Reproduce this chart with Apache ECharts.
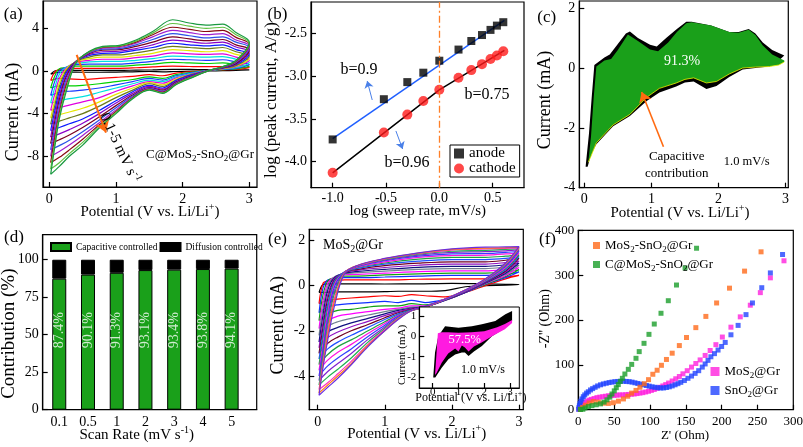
<!DOCTYPE html>
<html><head><meta charset="utf-8">
<script src="https://cdn.jsdelivr.net/npm/echarts@6/dist/echarts.min.js"></script>
</head><body style="margin:0;background:#fff">
<div id="c" style="width:803px;height:447px"></div>
<script>
const FF = "'Liberation Serif','Times New Roman',serif";

// ===== (a) C@MoS2-SnO2@Gr CV curves, 0.1-5 mV/s =====
const A_UP_V = [0.02, 0.08, 0.15, 0.25, 0.4, 0.6, 0.8, 1.05, 1.3, 1.55, 1.85, 2.1, 2.35, 2.6, 2.8, 3.0];
const A_DN_V = [3.0, 2.8, 2.6, 2.4, 2.15, 1.9, 1.7, 1.5, 1.25, 1.0, 0.75, 0.5, 0.3, 0.15, 0.02];
const A_UP = [
 [-0.3, 0.0, 0.05, 0.05, 0.05, 0.05, 0.05, 0.05, 0.08, 0.1, 0.15, 0.15, 0.12, 0.12, 0.1, 0.1],
 [-0.9, -0.1, 0.15, 0.2, 0.25, 0.25, 0.25, 0.25, 0.3, 0.38, 0.45, 0.42, 0.4, 0.42, 0.35, 0.3],
 [-1.6, -0.5, 0.2, 0.3, 0.45, 0.45, 0.45, 0.45, 0.55, 0.65, 0.8, 0.75, 0.7, 0.75, 0.6, 0.45],
 [-2.3, -1.0, 0.0, 0.35, 0.6, 0.65, 0.65, 0.65, 0.75, 0.9, 1.1, 1.05, 1.0, 1.05, 0.85, 0.6],
 [-3.0, -1.6, -0.3, 0.35, 0.7, 0.85, 0.9, 0.9, 1.0, 1.15, 1.4, 1.35, 1.3, 1.35, 1.1, 0.8],
 [-3.7, -2.2, -0.7, 0.25, 0.8, 1.0, 1.1, 1.1, 1.25, 1.4, 1.7, 1.6, 1.55, 1.6, 1.3, 1.0],
 [-4.4, -2.8, -1.1, 0.15, 0.85, 1.15, 1.3, 1.3, 1.45, 1.65, 2.0, 1.9, 1.8, 1.9, 1.55, 1.2],
 [-5.0, -3.3, -1.5, 0.0, 0.9, 1.3, 1.5, 1.5, 1.7, 1.95, 2.3, 2.2, 2.1, 2.2, 1.8, 1.4],
 [-5.6, -3.8, -1.9, -0.2, 0.9, 1.45, 1.65, 1.7, 1.95, 2.2, 2.6, 2.45, 2.35, 2.45, 2.0, 1.6],
 [-6.2, -4.3, -2.3, -0.4, 0.9, 1.55, 1.8, 1.85, 2.1, 2.45, 2.9, 2.75, 2.6, 2.7, 2.25, 1.8],
 [-6.8, -4.8, -2.7, -0.6, 0.9, 1.65, 1.95, 2.0, 2.3, 2.7, 3.2, 3.0, 2.85, 2.95, 2.45, 2.0],
 [-7.4, -5.3, -3.1, -0.85, 0.85, 1.7, 2.05, 2.1, 2.45, 2.95, 3.5, 3.3, 3.1, 3.2, 2.7, 2.2],
 [-8.0, -5.8, -3.5, -1.1, 0.85, 1.75, 2.15, 2.2, 2.6, 3.2, 3.8, 3.6, 3.4, 3.5, 2.9, 2.35],
 [-8.6, -6.3, -3.9, -1.4, 0.8, 1.8, 2.2, 2.3, 2.7, 3.4, 4.1, 3.9, 3.7, 3.8, 3.15, 2.5],
 [-9.2, -6.8, -4.2, -1.7, 0.8, 1.8, 2.25, 2.35, 2.8, 3.55, 4.45, 4.2, 4.0, 4.1, 3.4, 2.6],
 [-9.7, -7.2, -4.5, -2.0, 0.75, 1.85, 2.3, 2.4, 2.9, 3.7, 4.8, 4.5, 4.3, 4.4, 3.6, 2.7]
];
const A_DN = [
 [0.1, 0.05, 0.02, 0.0, -0.02, -0.05, -0.08, -0.05, -0.08, -0.1, -0.12, -0.12, -0.1, -0.12, -0.3],
 [0.3, 0.15, 0.1, 0.05, -0.05, -0.2, -0.45, -0.35, -0.5, -0.6, -0.7, -0.8, -0.75, -0.7, -0.9],
 [0.45, 0.2, 0.12, 0.05, -0.1, -0.35, -0.7, -0.55, -0.8, -1.0, -1.2, -1.35, -1.4, -1.4, -1.6],
 [0.6, 0.25, 0.15, 0.05, -0.15, -0.45, -0.85, -0.7, -1.0, -1.3, -1.6, -1.8, -1.9, -2.0, -2.3],
 [0.8, 0.3, 0.18, 0.05, -0.2, -0.55, -1.0, -0.85, -1.2, -1.6, -2.0, -2.4, -2.6, -2.8, -3.0],
 [1.0, 0.4, 0.2, 0.05, -0.25, -0.65, -1.15, -1.0, -1.4, -1.9, -2.5, -2.9, -3.2, -3.45, -3.7],
 [1.2, 0.45, 0.22, 0.05, -0.3, -0.75, -1.3, -1.1, -1.6, -2.2, -2.9, -3.5, -3.85, -4.1, -4.4],
 [1.4, 0.5, 0.25, 0.05, -0.3, -0.85, -1.45, -1.2, -1.8, -2.5, -3.3, -4.0, -4.4, -4.7, -5.0],
 [1.6, 0.6, 0.28, 0.05, -0.35, -0.9, -1.6, -1.35, -1.95, -2.8, -3.7, -4.5, -4.95, -5.3, -5.6],
 [1.8, 0.65, 0.3, 0.05, -0.4, -1.0, -1.7, -1.45, -2.1, -3.0, -4.0, -4.9, -5.5, -5.9, -6.2],
 [2.0, 0.7, 0.32, 0.05, -0.45, -1.05, -1.8, -1.55, -2.25, -3.25, -4.3, -5.3, -6.0, -6.45, -6.8],
 [2.2, 0.8, 0.34, 0.05, -0.5, -1.1, -1.9, -1.6, -2.35, -3.45, -4.6, -5.7, -6.5, -7.0, -7.4],
 [2.35, 0.85, 0.36, 0.05, -0.5, -1.15, -1.95, -1.65, -2.45, -3.65, -4.85, -6.05, -6.95, -7.55, -8.0],
 [2.5, 0.9, 0.38, 0.05, -0.55, -1.2, -2.0, -1.7, -2.5, -3.8, -5.05, -6.4, -7.4, -8.1, -8.6],
 [2.6, 0.95, 0.39, 0.05, -0.55, -1.25, -2.05, -1.75, -2.55, -3.9, -5.2, -6.7, -7.75, -8.6, -9.2],
 [2.7, 1.0, 0.4, 0.05, -0.6, -1.3, -2.1, -1.8, -2.6, -4.0, -5.35, -6.95, -8.0, -8.95, -9.7]
];
const A_COLORS = ['#000000','#ff0000','#00d000','#1a3cff','#00e0e0','#e000e0','#e6e600','#6b7a1a',
                  '#0a1aff','#8a00c8','#7a0020','#2a50e8','#a020d0','#8a0a10','#60c040','#1a9a40'];
const A_ARROW = [[0.41, 1.5], [0.85, -5.78]];

// ===== (b) log(peak current) vs log(sweep rate) =====
const B_LOGRATE = [-1.0, -0.52, -0.3, -0.15, 0.0, 0.18, 0.3, 0.4, 0.48, 0.54, 0.6];
const B_ANODE   = [-3.74, -3.27, -3.07, -2.96, -2.82, -2.69, -2.59, -2.52, -2.46, -2.41, -2.37];
const B_CATHODE = [-4.13, -3.66, -3.45, -3.29, -3.16, -3.02, -2.93, -2.86, -2.80, -2.76, -2.71];
const B_FIT_ANODE = [[-1.0, -3.73], [0.61, -2.35]];
const B_FIT_CATHODE = [[-1.0, -4.13], [0.0, -3.16], [0.61, -2.70]];
const B_ARROWS = [[[-0.629, -3.279], [-0.676, -3.057]], [[-0.407, -3.641], [-0.344, -3.852]]];

// ===== (c) capacitive contribution at 1.0 mV/s =====
const C_TOTAL = [[0.02,-3.3],[0.07,-2.2],[0.11,-1.0],[0.15,0.1],[0.3,0.35],[0.38,0.45],[0.5,0.8],[0.62,1.15],[0.68,1.22],
  [0.8,1.0],[0.98,0.78],[1.08,0.72],[1.22,1.0],[1.38,1.3],[1.52,1.55],[1.6,1.55],[1.89,1.42],[2.16,1.2],[2.3,1.2],
  [2.45,1.3],[2.55,1.15],[2.66,0.85],[2.8,0.6],[2.98,0.42],[2.9,0.25],[2.76,0.05],[2.55,0.0],[2.36,-0.05],[2.16,-0.3],
  [1.97,-0.6],[1.82,-0.7],[1.63,-0.45],[1.5,-0.48],[1.37,-0.62],[1.12,-0.82],[0.93,-1.1],[0.68,-1.6],[0.43,-1.95],
  [0.18,-2.55],[0.1,-2.9],[0.05,-3.3]];
const C_CAP_UPPER = [[0.06,-3.15],[0.1,-2.3],[0.14,-1.0],[0.18,0.05],[0.3,0.25],[0.4,0.3],[0.5,0.6],[0.65,1.12],[0.8,0.9],
  [0.98,0.62],[1.1,0.56],[1.25,0.85],[1.38,1.2],[1.52,1.5],[1.6,1.53],[1.89,1.42],[2.16,1.2],[2.3,1.18],[2.45,1.28],
  [2.55,1.1],[2.66,0.75],[2.8,0.45],[2.98,0.25]];
const C_CAP_LOWER = [[2.98,0.2],[2.9,0.1],[2.76,0.05],[2.55,0.03],[2.36,0.0],[2.16,-0.2],[1.97,-0.45],[1.82,-0.5],
  [1.63,-0.33],[1.5,-0.38],[1.37,-0.5],[1.12,-0.68],[0.93,-0.98],[0.68,-1.55],[0.43,-1.9],[0.18,-2.5],[0.1,-2.95],[0.06,-3.15]];
const C_ARROW = [[1.18, -2.63], [0.855, -0.8]];

// ===== (d) contribution ratios =====
const D_RATES = ['0.1', '0.5', '1', '2', '3', '4', '5'];
const D_CAP  = [87.4, 90.1, 91.3, 93.1, 93.4, 93.8, 94.1];
const D_DIFF = [12.6, 9.9, 8.7, 6.9, 6.6, 6.2, 5.9];

// ===== (e) MoS2@Gr CV curves =====
const E_UP_V = [0.02, 0.08, 0.15, 0.25, 0.4, 0.6, 1.0, 1.5, 2.0, 2.5, 2.8, 3.0];
const E_DN_V = [3.0, 2.8, 2.5, 2.2, 1.9, 1.6, 1.4, 1.2, 1.0, 0.75, 0.5, 0.3, 0.15, 0.02];
const E_UP = [
 [-0.3, 0.05, 0.08, 0.08, 0.08, 0.08, 0.07, 0.08, 0.1, 0.08, 0.06, 0.05],
 [-0.8, 0.1, 0.2, 0.22, 0.25, 0.25, 0.25, 0.28, 0.3, 0.3, 0.38, 0.45],
 [-1.2, -0.1, 0.25, 0.3, 0.35, 0.35, 0.38, 0.42, 0.45, 0.45, 0.5, 0.6],
 [-1.55, -0.4, 0.2, 0.35, 0.42, 0.42, 0.47, 0.52, 0.55, 0.55, 0.6, 0.7],
 [-1.9, -0.7, 0.1, 0.38, 0.48, 0.5, 0.55, 0.62, 0.65, 0.65, 0.72, 0.8],
 [-2.2, -1.0, -0.05, 0.38, 0.52, 0.57, 0.64, 0.72, 0.75, 0.75, 0.82, 0.9],
 [-2.5, -1.3, -0.2, 0.35, 0.55, 0.63, 0.72, 0.81, 0.85, 0.85, 0.92, 1.0],
 [-2.75, -1.6, -0.4, 0.3, 0.57, 0.68, 0.8, 0.9, 0.95, 0.95, 1.02, 1.1],
 [-3.0, -1.85, -0.6, 0.25, 0.58, 0.72, 0.88, 0.99, 1.05, 1.05, 1.12, 1.2],
 [-3.25, -2.1, -0.8, 0.2, 0.6, 0.76, 0.95, 1.08, 1.15, 1.15, 1.2, 1.28],
 [-3.5, -2.35, -1.0, 0.12, 0.6, 0.8, 1.0, 1.17, 1.25, 1.25, 1.3, 1.36],
 [-3.75, -2.6, -1.2, 0.05, 0.6, 0.83, 1.05, 1.25, 1.33, 1.35, 1.4, 1.45],
 [-4.0, -2.8, -1.4, -0.05, 0.6, 0.85, 1.1, 1.3, 1.4, 1.42, 1.47, 1.52],
 [-4.2, -3.0, -1.6, -0.2, 0.58, 0.87, 1.13, 1.35, 1.47, 1.5, 1.54, 1.58],
 [-4.4, -3.2, -1.8, -0.35, 0.57, 0.88, 1.16, 1.39, 1.52, 1.56, 1.6, 1.63],
 [-4.6, -3.4, -2.0, -0.55, 0.56, 0.89, 1.18, 1.42, 1.57, 1.62, 1.65, 1.67],
 [-4.75, -3.5, -2.2, -0.7, 0.55, 0.9, 1.19, 1.44, 1.6, 1.66, 1.68, 1.7],
 [-4.85, -3.6, -2.4, -0.9, 0.53, 0.9, 1.2, 1.45, 1.62, 1.7, 1.71, 1.72]
];
const E_DN = [
 [0.05, 0.02, 0.0, -0.05, -0.22, -0.25, -0.25, -0.25, -0.27, -0.28, -0.28, -0.28, -0.3, -0.3],
 [0.45, 0.3, 0.0, -0.3, -0.5, -0.45, -0.4, -0.48, -0.45, -0.5, -0.55, -0.6, -0.65, -0.8],
 [0.6, 0.35, 0.05, -0.3, -0.6, -0.75, -0.65, -0.75, -0.7, -0.75, -0.8, -0.85, -0.95, -1.2],
 [0.7, 0.4, 0.05, -0.3, -0.65, -0.85, -0.8, -0.9, -0.9, -0.95, -1.05, -1.1, -1.25, -1.55],
 [0.8, 0.45, 0.08, -0.3, -0.65, -0.9, -0.9, -1.0, -1.05, -1.15, -1.25, -1.35, -1.55, -1.9],
 [0.9, 0.5, 0.1, -0.3, -0.65, -0.92, -0.95, -1.05, -1.15, -1.3, -1.45, -1.6, -1.8, -2.2],
 [1.0, 0.55, 0.12, -0.3, -0.65, -0.93, -1.0, -1.1, -1.25, -1.45, -1.65, -1.85, -2.05, -2.5],
 [1.1, 0.6, 0.14, -0.28, -0.63, -0.95, -1.02, -1.15, -1.33, -1.58, -1.82, -2.05, -2.3, -2.75],
 [1.2, 0.65, 0.16, -0.26, -0.62, -0.95, -1.05, -1.2, -1.42, -1.72, -2.0, -2.28, -2.55, -3.0],
 [1.28, 0.7, 0.18, -0.25, -0.62, -0.96, -1.07, -1.25, -1.5, -1.85, -2.2, -2.5, -2.8, -3.25],
 [1.36, 0.75, 0.2, -0.24, -0.61, -0.96, -1.08, -1.3, -1.6, -2.0, -2.4, -2.7, -3.05, -3.5],
 [1.45, 0.8, 0.22, -0.23, -0.6, -0.96, -1.1, -1.33, -1.68, -2.12, -2.6, -2.95, -3.3, -3.75],
 [1.52, 0.85, 0.24, -0.22, -0.6, -0.96, -1.1, -1.36, -1.75, -2.25, -2.8, -3.2, -3.55, -4.0],
 [1.58, 0.9, 0.26, -0.21, -0.6, -0.95, -1.1, -1.4, -1.83, -2.38, -3.0, -3.45, -3.8, -4.2],
 [1.63, 0.93, 0.27, -0.2, -0.6, -0.95, -1.1, -1.43, -1.9, -2.5, -3.2, -3.7, -4.05, -4.4],
 [1.67, 0.96, 0.28, -0.2, -0.6, -0.94, -1.1, -1.46, -1.95, -2.6, -3.35, -3.9, -4.3, -4.6],
 [1.7, 0.98, 0.29, -0.2, -0.6, -0.93, -1.1, -1.48, -2.0, -2.65, -3.45, -4.0, -4.4, -4.75],
 [1.72, 1.0, 0.3, -0.2, -0.6, -0.92, -1.1, -1.5, -2.0, -2.7, -3.5, -4.1, -4.5, -4.85]
];
const E_COLORS = ['#000000','#ff0000','#1030ff','#10a010','#ff00ff','#708090','#101080','#9010c0','#700020',
                  '#2050ff','#20a040','#ff10e0','#3040ff','#8020d0','#20b050','#ff30c0','#ff7a10','#6a2ee0'];
// inset (1.0 mV/s, 57.5 %)
const EI_TOTAL = [[0.02,-2.03],[0.09,-0.8],[0.22,0.01],[0.48,0.5],[1.0,0.42],[1.52,0.5],[1.91,0.59],[2.43,0.75],
  [2.82,1.08],[3.08,1.24],[3.08,0.75],[2.82,0.42],[2.3,0.0],[1.91,-0.48],[1.6,-0.75],[1.39,-0.97],[1.25,-0.8],
  [1.13,-0.8],[0.87,-0.9],[0.61,-1.13],[0.35,-1.54],[0.1,-2.03]];
const EI_CAP = [[0.09,-1.9],[0.2,0.15],[0.35,0.2],[0.6,0.2],[1.0,0.18],[1.5,0.2],[2.0,0.25],[2.5,0.45],[2.8,0.6],
  [3.08,0.8],[3.08,0.65],[2.8,0.35],[2.3,0.0],[1.9,-0.3],[1.6,-0.5],[1.39,-0.75],[1.25,-0.55],[1.13,-0.45],
  [1.0,-0.75],[0.87,-0.6],[0.6,-0.85],[0.35,-1.3],[0.15,-1.8],[0.09,-1.9]];

// ===== (f) Nyquist plots =====
const F_MOSNO = [[3,1],[6,5],[10,10],[15,15],[21,18],[28,17],[35,14.5],[42,14],[49,15.5],[56,19],[63,24],[69,30],
  [74.5,37],[80.5,43],[86,50],[92,58],[98,67],[104,79],[110,88],[116,99],[123,112],[131,126],[141,143],[151,161],
  [164,183],[178,208],[193,238],[211,271],[232,309],[255,352],[285,402]];
const F_CMOSNO = [[3,0.5],[6.4,1],[9.3,4],[14,7],[19,9],[25,11],[31,13],[36,17],[40,22],[44,28],[47,35],[50.2,42],
  [53,49],[55.8,56],[58.5,63],[61.5,70],[65,79.6],[69.8,90],[74.5,101],[80.5,114.6],[85,129.5],[91.7,148],[98.6,168],
  [106,191],[115.4,215],[125.6,243],[137,278],[149,316],[165,360]];
const F_MOS = [[1,1],[2,4],[3,7],[5,10],[7,13],[9,16],[12,19],[15,21],[18,23],[22,25],[26,27],[30,28],[34,29],[38,30],
  [42,31],[46,31.5],[50,32],[54,32.5],[58,33],[62,33],[66,33.5],[70,34],[74,34.5],[78,35],[82,36],[86,37],[90,38],
  [94,39.5],[98,41],[102,43],[106,45],[110,47.5],[114,50],[118,53],[122,56],[126,59.5],[131,64],[136,69],[141,74],
  [146,80],[152,87],[158,95],[164,103],[170,111],[177,121],[184,132],[192,145],[201,162],[213,184],[226,207],
  [240,233],[254,261],[268,294],[287,332]];
const F_SNO = [[0.5,1],[1,5],[1.5,9],[2.3,14],[3.5,19],[5,24],[7,29],[9,33],[11.5,37],[14,40],[17,44],[20,47],
  [23.5,50],[27,53],[31,55.5],[35,57.5],[39,59],[43,60.5],[47,61.5],[51,62.5],[55,63],[59,63.5],[63,63.5],[67,63],
  [71,62.5],[75,61.5],[79,60],[83,58.5],[87,57],[91,55.5],[95,54],[99,52.5],[103,51],[107,50],[111,49],[115,48.5],
  [119,48.5],[123,49.5],[127,51],[131,53],[135,55.5],[139,58],[143,61],[148,65],[153,70],[158,75],[163,81],[168,87],
  [173,95],[177,102],[181,110],[185,118],[190,125],[195,133],[200,141],[205,150],[213,167],[223,188],[234,212],
  [243,238],[256,272],[268,305],[285,346]];
const F_NAMES = {
  'MoS2-SnO2@Gr': 'MoS_{2}-SnO_{2}@Gr', 'C@MoS2-SnO2@Gr': 'C@MoS_{2}-SnO_{2}@Gr',
  'MoS2@Gr': 'MoS_{2}@Gr', 'SnO2@Gr': 'SnO_{2}@Gr'
};

// ---------- helpers ----------
function rich(str) {
  let out = '', last = 0, m; const re = /([_^])\{([^}]*)\}/g;
  while ((m = re.exec(str))) {
    if (m.index > last) out += '{n|' + str.slice(last, m.index) + '}';
    out += '{' + (m[1] === '_' ? 'b' : 'p') + '|' + m[2] + '}';
    last = re.lastIndex;
  }
  if (last < str.length) out += '{n|' + str.slice(last) + '}';
  return out;
}
function richStyle(F, color, zr) {
  const c = zr ? 'fill' : 'color', lh = Math.round(F * 1.3), s = Math.round(F * 0.68);
  const o = (fs, va) => ({ fontSize: fs, fontFamily: FF, [c]: color, lineHeight: lh, verticalAlign: va });
  return { n: o(F, 'middle'), b: o(s, 'bottom'), p: o(s, 'top') };
}
function T(x, y, str, F, rot, color) {
  color = color || '#000';
  return { type: 'text', x, y, rotation: rot || 0, z: 100, silent: true,
    style: { text: rich(str), rich: richStyle(F, color, true), fill: color, fontSize: F, fontFamily: FF,
             align: 'center', verticalAlign: 'middle', textAlign: 'center', textVerticalAlign: 'middle' } };
}
function ax(gi, min, max, ticks, fmt, fs, margin, extra) {
  return Object.assign({
    type: 'value', gridIndex: gi, min, max,
    axisLine: { show: true, onZero: false, lineStyle: { color: '#000', width: 1.2 } },
    axisTick: { show: true, inside: true, length: 5, customValues: ticks, lineStyle: { color: '#000', width: 1.2 } },
    axisLabel: { show: true, customValues: ticks, formatter: fmt || (v => String(v)), color: '#000',
                 fontFamily: FF, fontSize: fs || 14, margin: margin == null ? 5 : margin },
    splitLine: { show: false }, minorTick: { show: false }
  }, extra || {});
}
function loop(upV, up, dnV, dn) {
  const pts = upV.map((v, i) => [v, up[i]]);
  for (let i = 1; i < dnV.length; i++) pts.push([dnV[i], dn[i]]);
  return pts;
}
function poly(xi, yi, pts, fill, z) {
  return { type: 'custom', xAxisIndex: xi, yAxisIndex: yi, data: [[pts[0][0], pts[0][1]]], z, silent: true,
    renderItem: (p, api) => ({ type: 'polygon', shape: { points: pts.map(q => api.coord(q)) }, style: { fill } }) };
}
const zip = (xs, ys) => xs.map((x, i) => [x, ys[i]]);

const box = { show: true, borderColor: '#000', borderWidth: 1.2, backgroundColor: 'transparent', outerBoundsMode: 'none', containLabel: false };
const hid = { show: false, outerBoundsMode: 'none', containLabel: false };
const grid = [
  Object.assign({ left: 43, top: 1, width: 214, height: 186 }, box),
  Object.assign({ left: 311, top: 2, width: 213, height: 185.7 }, box),
  Object.assign({ left: 579.3, top: 1, width: 209, height: 186.7 }, box),
  Object.assign({ left: 42.7, top: 234.7, width: 214, height: 175 }, box),
  Object.assign({ left: 309.3, top: 229.3, width: 214, height: 180.4 }, box),
  Object.assign({ left: 419.3, top: 307, width: 100, height: 81 }, hid),
  Object.assign({ left: 578.3, top: 230.3, width: 215, height: 179.4 }, box),
  Object.assign({ left: 44.9, top: 234.7, width: 201.1, height: 175 }, hid)   // bar band layout for (d)
];
const f1 = v => v.toFixed(1);
const xAxis = [
  ax(0, -0.095, 3.115, [0, 1, 2, 3], null, 14, 5),
  ax(1, -1.203, 0.794, [-1, -0.5, 0, 0.5], f1, 14, 4),
  ax(2, -0.074, 3.04, [0, 1, 2, 3], null, 14, 5),
  ax(3, 0, 1, [0, 1], null, 14, 6, { axisTick: { show: false }, axisLabel: { show: false } }),
  ax(4, -0.125, 3.064, [0, 1, 2, 3], null, 14, 6),
  ax(5, -0.52, 3.36, [0, 1, 2, 3], null, 11, -1, { z: 11 }),
  ax(6, 0, 300, [0, 50, 100, 150, 200, 250, 300], null, 13, 5),
  { type: 'category', gridIndex: 7, data: D_RATES, axisLine: { show: false }, axisTick: { show: false },
    axisLabel: { color: '#000', fontFamily: FF, fontSize: 14, margin: 6, interval: 0 }, splitLine: { show: false } }
];
const yAxis = [
  ax(0, -10.88, 6.56, [-8, -4, 0, 4], null, 14, 4),
  ax(1, -4.304, -2.134, [-4, -3.5, -3, -2.5], f1, 14, 4),
  ax(2, -4, 2.24, [-4, -2, 0, 2], null, 14, 4),
  ax(3, 0, 116.7, [0, 25, 50, 75, 100], null, 14, 4),
  ax(4, -5.49, 2.49, [-4, -2, 0, 2], null, 14, 4),
  ax(5, -2.54, 1.44, [-2, -1, 0, 1], null, 11, 3, { z: 11 }),
  ax(6, 0, 400, [0, 100, 200, 300, 400], null, 13, 4),
  { type: 'value', gridIndex: 7, min: 0, max: 116.7, show: false, splitLine: { show: false } }
];

const series = [];
// (a)
A_UP.forEach((u, i) => series.push({ type: 'line', xAxisIndex: 0, yAxisIndex: 0, data: loop(A_UP_V, u, A_DN_V, A_DN[i]),
  symbol: 'none', showSymbol: false, smooth: 0.35, silent: true, z: 2, lineStyle: { color: A_COLORS[i], width: 1.2 } }));
series.push({ type: 'line', xAxisIndex: 0, yAxisIndex: 0, data: [], symbol: 'none', z: 5,
  markLine: { silent: true, symbol: ['none', 'arrow'], symbolSize: 11, label: { show: false },
    lineStyle: { color: '#ff6a10', width: 2, type: 'solid' },
    data: [[{ coord: A_ARROW[0] }, { coord: A_ARROW[1] }]] } });
// (b)
series.push({ type: 'line', xAxisIndex: 1, yAxisIndex: 1, data: B_FIT_ANODE, symbol: 'none', z: 2, silent: true,
  lineStyle: { color: '#1f5fff', width: 1.5 },
  markLine: { silent: true, symbol: ['none', 'arrow'], symbolSize: 7, label: { show: false },
    lineStyle: { color: '#4a80e8', width: 1, type: 'solid' },
    data: B_ARROWS.map(a => [{ coord: a[0] }, { coord: a[1] }]) } });
series.push({ type: 'line', xAxisIndex: 1, yAxisIndex: 1, data: B_FIT_CATHODE, symbol: 'none', z: 2, silent: true,
  lineStyle: { color: '#000', width: 1.5 },
  markLine: { silent: true, symbol: ['none', 'none'], label: { show: false },
    lineStyle: { color: '#ff7f27', width: 1.3, type: [7, 3, 2, 3] }, data: [{ xAxis: 0 }] } });
series.push({ name: 'anode', type: 'scatter', xAxisIndex: 1, yAxisIndex: 1, data: zip(B_LOGRATE, B_ANODE),
  symbol: 'rect', symbolSize: 8, itemStyle: { color: '#000' }, z: 4, silent: true });
series.push({ name: 'cathode', type: 'scatter', xAxisIndex: 1, yAxisIndex: 1, data: zip(B_LOGRATE, B_CATHODE),
  symbol: 'circle', symbolSize: 10, itemStyle: { color: '#ff1a1a' }, z: 4, silent: true });
// (c)
series.push(poly(2, 2, C_TOTAL, '#000', 2));
series.push(poly(2, 2, C_CAP_UPPER.concat(C_CAP_LOWER), '#1aa01a', 3));
series.push({ type: 'line', xAxisIndex: 2, yAxisIndex: 2, data: C_CAP_LOWER, symbol: 'none', z: 4, silent: true,
  lineStyle: { color: '#f0f000', width: 0.8 },
  markLine: { silent: true, symbol: ['none', 'arrow'], symbolSize: 10, label: { show: false },
    lineStyle: { color: '#ff6a10', width: 1.6, type: 'solid' },
    data: [[{ coord: C_ARROW[0] }, { coord: C_ARROW[1] }]] } });
// (d)
series.push({ name: 'Capacitive controlled', type: 'bar', xAxisIndex: 7, yAxisIndex: 7, stack: 'd', barWidth: 14,
  data: D_CAP, itemStyle: { color: '#1aa01a', borderColor: '#000', borderWidth: 1 }, silent: true });
series.push({ name: 'Diffusion controlled', type: 'bar', xAxisIndex: 7, yAxisIndex: 7, stack: 'd', barWidth: 14,
  data: D_DIFF, itemStyle: { color: '#000', borderColor: '#000', borderWidth: 1 }, silent: true });
const LABEL_Y = 53;
series.push({ type: 'scatter', xAxisIndex: 7, yAxisIndex: 7, symbolSize: 1, itemStyle: { color: 'transparent' }, z: 5, silent: true,
  data: D_CAP.map((v, i) => [i, LABEL_Y, v]),
  label: { show: true, position: 'inside', rotate: 90, color: '#fff', fontFamily: FF, fontSize: 14,
           formatter: p => p.value[2].toFixed(1) + '%' } });
// (e)
E_UP.forEach((u, i) => series.push({ type: 'line', xAxisIndex: 4, yAxisIndex: 4, data: loop(E_UP_V, u, E_DN_V, E_DN[i]),
  symbol: 'none', showSymbol: false, smooth: 0.35, silent: true, z: 2, lineStyle: { color: E_COLORS[i], width: 1.2 } }));
series.push(poly(5, 5, EI_TOTAL, '#000', 10));
series.push(poly(5, 5, EI_CAP, '#ff1ae0', 11));
// (f)
const fser = (name, data, color) => ({ name, type: 'scatter', xAxisIndex: 6, yAxisIndex: 6, data, symbol: 'rect',
  symbolSize: 5, itemStyle: { color }, silent: true, z: 3 });
series.push(fser('MoS2@Gr', F_MOS, '#ff22dd'));
series.push(fser('SnO2@Gr', F_SNO, '#2244ff'));
series.push(fser('MoS2-SnO2@Gr', F_MOSNO, '#ff6a1a'));
series.push(fser('C@MoS2-SnO2@Gr', F_CMOSNO, '#1a9e2a'));

const legTxt = F => ({ fontFamily: FF, fontSize: F, color: '#000' });
const legend = [
  { data: [{ name: 'anode', icon: 'rect' }, { name: 'cathode', icon: 'circle' }], orient: 'vertical', left: 450, top: 145,
    padding: [1, 4, 1, 4], itemGap: 0, itemWidth: 10, itemHeight: 10, borderColor: '#000', borderWidth: 1,
    textStyle: Object.assign(legTxt(15), { lineHeight: 15 }), selectedMode: false },
  { data: [{ name: 'Capacitive controlled', icon: 'rect' }, { name: 'Diffusion controlled', icon: 'rect' }], orient: 'horizontal',
    left: 45, top: 237, itemWidth: 20, itemHeight: 8, itemGap: 2, textStyle: legTxt(9.5), selectedMode: false },
  { data: [{ name: 'MoS2-SnO2@Gr', icon: 'rect' }, { name: 'C@MoS2-SnO2@Gr', icon: 'rect' }], orient: 'vertical',
    left: 588, top: 234, itemWidth: 7, itemHeight: 7, itemGap: 4, formatter: n => rich(F_NAMES[n]),
    textStyle: Object.assign(legTxt(13), { rich: richStyle(13, '#000', false) }), selectedMode: false },
  { data: [{ name: 'MoS2@Gr', icon: 'rect' }, { name: 'SnO2@Gr', icon: 'rect' }], orient: 'vertical',
    left: 705.5, top: 360, itemWidth: 9, itemHeight: 9, itemGap: 4, formatter: n => rich(F_NAMES[n]),
    textStyle: Object.assign(legTxt(13), { rich: richStyle(13, '#000', false) }), selectedMode: false }
];

const POT = 'Potential (V vs. Li/Li^{+})', R90 = Math.PI / 2;
const graphic = [
  { type: 'rect', shape: { x: 419.3, y: 307, width: 100, height: 81 }, style: { fill: '#fff', stroke: '#000', lineWidth: 1 }, z: 5, silent: true },
  T(13.3, 15, '(a)', 17), T(277.5, 15, '(b)', 17), T(546.7, 17.5, '(c)', 17),
  T(14, 237.8, '(d)', 17), T(277.5, 239.5, '(e)', 17), T(547.5, 239.5, '(f)', 17),
  T(13, 112, 'Current (mA)', 18, R90), T(150, 212, POT, 15),
  T(271.7, 100, 'log (peak current, A/g)', 17, R90), T(417.7, 211, 'log (sweep rate, mV/s)', 15),
  T(545, 100, 'Current (mA)', 18, R90), T(680, 213.3, POT, 15),
  T(9, 333.7, 'Contribution (%)', 19, R90), T(136.7, 435.3, 'Scan Rate (mV s^{-1})', 15),
  T(278.3, 325.3, 'Current (mA)', 18, R90), T(416.7, 433.7, POT, 15),
  T(545, 318.7, "-Z'' (Ohm)", 14, R90), T(685, 435.3, "Z' (Ohm)", 13),
  T(401.7, 355, 'Current (mA)', 11, R90), T(470.8, 398, POT, 12),
  T(119.5, 148, '0.1-5 mV s^{-1}', 15, -1.134), T(200, 155, 'C@MoS_{2}-SnO_{2}@Gr', 13),
  T(359, 70, 'b=0.9', 16), T(487, 95, 'b=0.75', 16), T(407, 163, 'b=0.96', 16),
  T(682, 61, '91.3%', 14, 0, '#ffffff'), T(676.7, 156.7, 'Capacitive', 13), T(676.7, 173.3, 'contribution', 13),
  T(746.7, 161.7, '1.0 mV/s', 12.5),
  T(353, 245.3, 'MoS_{2}@Gr', 14), T(464.7, 340, '57.5%', 12.5, 0, '#ffffff'), T(483, 370, '1.0 mV/s', 12)
];

const chart = echarts.init(document.getElementById('c'), null, { renderer: 'canvas' });
chart.setOption({
  animation: false, backgroundColor: '#fff', textStyle: { fontFamily: FF },
  grid, xAxis, yAxis, series, legend, graphic
});
</script></body></html>
